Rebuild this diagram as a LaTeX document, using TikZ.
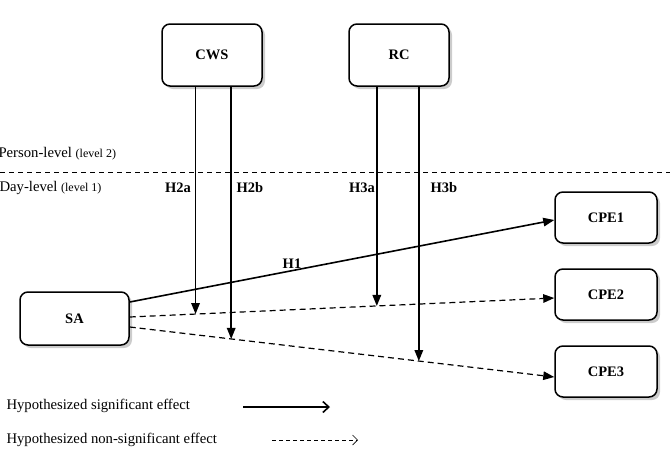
\documentclass[tikz,border=0pt]{standalone}
\usepackage{fontspec}
\setmainfont{Liberation Serif}
\usetikzlibrary{shapes,arrows.meta,shadows,calc}
\tikzstyle{mybox}=[draw,line width=1.5pt,rounded corners=8pt,fill=white,font=\bfseries\fontsize{14.5}{16}\selectfont,drop shadow={opacity=.4,shadow xshift=3pt,shadow yshift=-3pt}]
\tikzstyle{sig}=[line width=1.6pt,-{Triangle[length=11pt,width=8.5pt]}]
\tikzstyle{nonsig}=[line width=1.2pt,dash pattern=on 6pt off 4pt,-{Triangle[length=11pt,width=8.5pt]}]
\tikzstyle{hlab}=[font=\bfseries\fontsize{14.5}{16}\selectfont]
\tikzstyle{txt}=[anchor=west,font=\fontsize{14.7}{17}\selectfont]

\begin{document}
\begin{tikzpicture}[x=1pt,y=-1pt]
	\useasboundingbox (0,0) rectangle (670,456);
	% boxes
	\node[mybox,minimum width=100pt,minimum height=62pt] (cws) at (212,55) {CWS};
	\node[mybox,minimum width=100pt,minimum height=62pt] (rc) at (399,55) {RC};
	\node[mybox,minimum width=109pt,minimum height=53pt] (sa) at (74.5,318.5) {SA};
	\node[mybox,minimum width=102pt,minimum height=51pt] (cpe1) at (606,217.5) {CPE1};
	\node[mybox,minimum width=102pt,minimum height=51pt] (cpe2) at (606,294.5) {CPE2};
	\node[mybox,minimum width=102pt,minimum height=51pt] (cpe3) at (606,371.5) {CPE3};

	% levels
	\draw[line width=1pt,dash pattern=on 5pt off 4pt] (0,172) -- (670,172);
	\node[txt] (person) at (-5,154) {Person-level {\fontsize{12}{14}\selectfont(level 2)}};
	\node[txt] (day) at (-4,188) {Day-level {\fontsize{12}{14}\selectfont(level 1)}};

	% main paths
	\coordinate (sa1) at ([yshift=16.5pt]sa.east);
	\coordinate (sa2) at ([yshift=1.5pt]sa.east);
	\coordinate (sa3) at ([yshift=-8.5pt]sa.east);
	\coordinate (in1) at ([yshift=-2.5pt]cpe1.west);
	\coordinate (in2) at ([yshift=-3.5pt]cpe2.west);
	\coordinate (in3) at ([yshift=-5.5pt]cpe3.west);
	\draw[sig] (sa1) -- (in1);
	\draw[nonsig] (sa2) -- (in2);
	\draw[nonsig] (sa3) -- (in3);

	% moderators
	\coordinate (h2a) at ($(sa2)!0.155!(in2)$);
	\coordinate (h3a) at ($(sa2)!0.582!(in2)$);
	\coordinate (h2b) at ($(sa3)!0.239!(in3)$);
	\coordinate (h3b) at ($(sa3)!0.681!(in3)$);
	\draw[sig] (cws.south -| h2a) -- (h2a);
	\draw[sig] (cws.south -| h2b) -- (h2b);
	\draw[sig] (rc.south -| h3a) -- (h3a);
	\draw[sig] (rc.south -| h3b) -- (h3b);

	\node[hlab] (lh1) at (292,264) {H1};
	\node[hlab] (lh2a) at (178,188) {H2a};
	\node[hlab] (lh2b) at (250,188) {H2b};
	\node[hlab] (lh3a) at (362,188) {H3a};
	\node[hlab] (lh3b) at (444,188) {H3b};

	% legend
	\node[txt] (leg1) at (3,406) {Hypothesized significant effect};
	\node[txt] (leg2) at (3,440) {Hypothesized non-significant effect};
	\coordinate (l1a) at (243,407);
	\coordinate (l1b) at (330,407);
	\coordinate (l2a) at (272,440);
	\coordinate (l2b) at (358,440);
	\draw[line width=1.6pt,-{Straight Barb[length=6pt,width=11pt]}] (l1a) -- (l1b);
	\draw[line width=.7pt,dash pattern=on 4pt off 3pt,-{Straight Barb[length=5pt,width=10pt]}] (l2a) -- (l2b);
\end{tikzpicture}
\end{document}
